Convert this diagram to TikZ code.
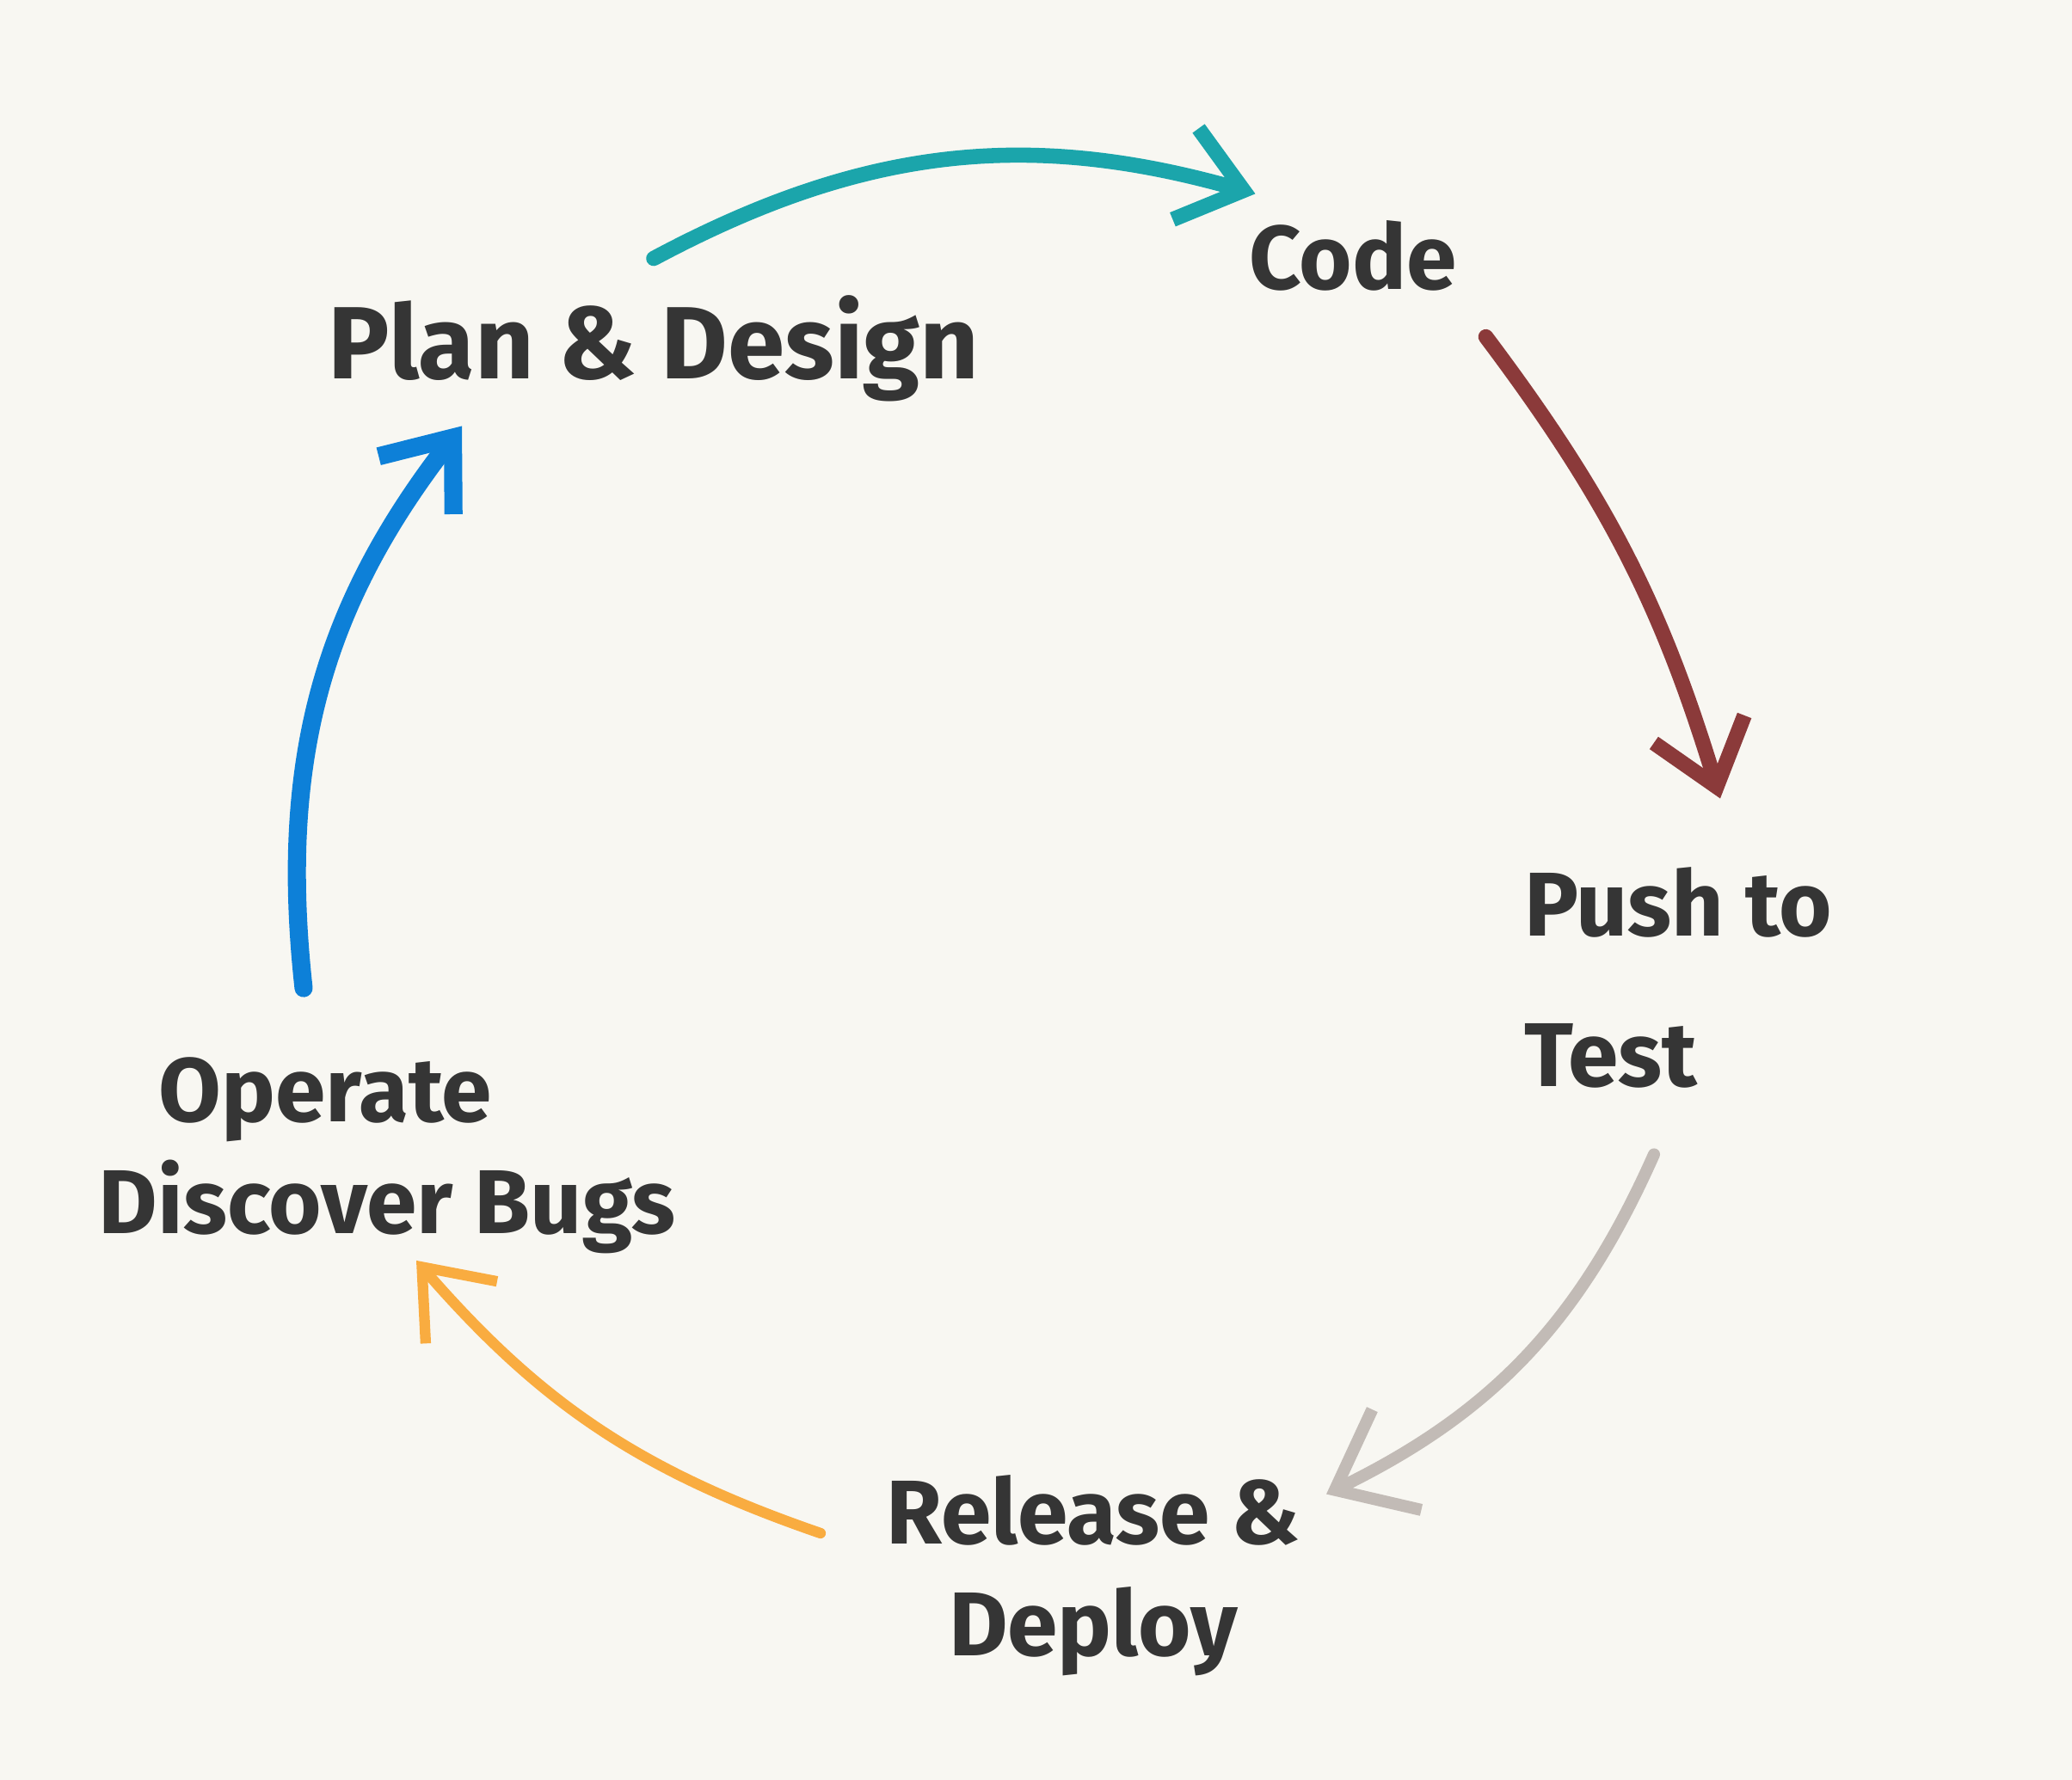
\documentclass[tikz,border=0pt]{standalone}
\usepackage{fontspec}
\setmainfont{Fira Sans}
\usepackage{tikz}
\usetikzlibrary{arrows.meta}
\definecolor{paper}{HTML}{F8F7F2}
\definecolor{ink}{HTML}{353535}
\definecolor{cteal}{HTML}{1BA5AB}
\definecolor{cmaroon}{HTML}{8B3A3A}
\definecolor{cgrey}{HTML}{C2BBB6}
\definecolor{corange}{HTML}{F9AC40}
\definecolor{cblue}{HTML}{0D80D8}
\tikzstyle{stage} = [font=\fontsize{30}{37}\selectfont\bfseries, text=ink, align=center, inner sep=2pt]
\tikzstyle{pen} = [line width = 5pt, line cap=round, line join=round, -{Straight Barb[length=7mm, width=11mm]}]

\begin{document}
\begin{tikzpicture}

		% Paper
		\fill[paper] (0,0) rectangle (24.09,-20.70);

		% Nodes
		\node (plan) [stage, font=\fontsize{34}{40}\selectfont\bfseries] at (7.60,-4.05) {Plan \& Design};
		\node (code) [stage] at (15.73,-2.97) {Code};
		\node (push) [stage, align=left, font=\fontsize{30}{50}\selectfont\bfseries] at (19.51,-11.37) {Push to\\Test};
		\node (release) [stage] at (12.71,-18.32) {Release \&\\Deploy};
		\node (operate) [stage, align=left] at (4.50,-13.44) {\hspace*{0.7cm}Operate\\Discover Bugs};

		% Arrows
		\draw[pen, cteal] ([yshift=0.35cm]plan.north) to[bend left=22] ([xshift=0.15cm, yshift=0.23cm]code.north west);
		\draw[pen, cmaroon] ([xshift=0.26cm, yshift=-0.46cm]code.south east) to[bend left=10] ([xshift=0.49cm, yshift=0.72cm]push.north);
		\draw[pen, cgrey, line width=4pt, -{Straight Barb[length=8mm, width=13mm]}] ([xshift=-0.28cm, yshift=-0.69cm]push.south) to[bend left=20] ([xshift=0.23cm, yshift=-0.3cm]release.north east);
		\draw[pen, corange, line width=3.5pt] ([xshift=-0.69cm, yshift=0.49cm]release.west) to[bend left=15] ([xshift=0.34cm]operate.south);
		\draw[pen, cblue, line width=6pt] ([xshift=-0.97cm, yshift=0.73cm]operate.north) to[bend left=22] ([xshift=-2.23cm, yshift=-0.21cm]plan.south);
	\end{tikzpicture}
\end{document}
